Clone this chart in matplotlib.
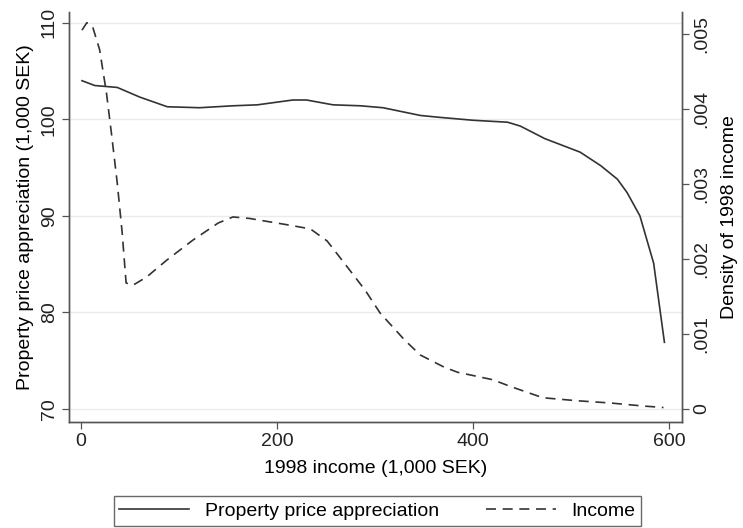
import matplotlib
matplotlib.use("Agg")
import matplotlib.pyplot as plt
import numpy as np

# Property price appreciation (left axis, 1,000 SEK) vs 1998 income
income_ppa = [1, 14, 37, 60, 88, 121, 155, 180, 216, 230, 257, 285, 308, 346, 366,
              400, 435, 448, 473, 509, 530, 547, 557, 570, 584, 595]
ppa = [104.0, 103.5, 103.3, 102.3, 101.3, 101.2, 101.4, 101.5, 102.0, 102.0, 101.5,
       101.4, 101.2, 100.4, 100.2, 99.9, 99.7, 99.3, 98.0, 96.6, 95.2, 93.8, 92.4,
       90.0, 85.1, 76.9]

# Density of 1998 income (right axis)
income_dens = [1, 6, 12, 19, 26, 31, 37, 42, 46, 53, 67, 88, 114, 140, 155, 172, 190,
               213, 234, 251, 270, 290, 305, 330, 346, 370, 384, 420, 438, 471, 506,
               540, 573, 594]
density = [0.00505, 0.00515, 0.00509, 0.00479, 0.00421, 0.00368, 0.00301, 0.00235,
           0.00168, 0.00165, 0.00176, 0.00199, 0.00225, 0.00248, 0.00256, 0.00254,
           0.00250, 0.00245, 0.00240, 0.00224, 0.00192, 0.00158, 0.00128, 0.00092,
           0.00072, 0.00056, 0.00049, 0.00039, 0.00030, 0.00015, 0.00011, 0.00008,
           0.00004, 0.00002]

left_ticks = [70, 80, 90, 100, 110]
right_ticks = [0, 0.001, 0.002, 0.003, 0.004, 0.005]
right_labels = ["0", ".001", ".002", ".003", ".004", ".005"]
x_ticks = [0, 200, 400, 600]

plt.rcParams.update({
    "font.family": ["Liberation Sans", "DejaVu Sans"],
    "font.size": 14,
    "axes.edgecolor": "#555555",
    "xtick.color": "#555555",
    "ytick.color": "#555555",
    "xtick.labelcolor": "#222222",
    "ytick.labelcolor": "#222222",
})

fig = plt.figure(figsize=(7.43, 5.28), dpi=100)
ax = fig.add_axes([0.0929, 0.2008, 0.8251, 0.7762])
ax2 = ax.twinx()

line_c = "#333333"
l1, = ax.plot(income_ppa, ppa, color=line_c, lw=1.2, label="Property price appreciation")
l2, = ax2.plot(income_dens, density, color=line_c, lw=1.2, dashes=(6, 4), label="Income")

ax.set_xlim(-12.2, 613)
ax.set_ylim(68.65, 111.1)
ax2.set_ylim(-0.000173, 0.00529)

ax.set_xticks(x_ticks)
ax.set_yticks(left_ticks)
ax.set_yticklabels([str(t) for t in left_ticks], rotation=90, va="center")
ax2.set_yticks(right_ticks)
ax2.set_yticklabels(right_labels, rotation=90, va="center")

ax.grid(axis="y", color="#ebebeb", lw=1.0)
ax.set_axisbelow(True)

for a in (ax, ax2):
    a.spines["top"].set_visible(False)
    for s in ("left", "right", "bottom"):
        a.spines[s].set_linewidth(1.0)
    a.tick_params(direction="out", length=5, width=0.9, pad=3)

ax.set_xlabel("1998 income (1,000 SEK)", labelpad=7)
ax.set_ylabel("Property price appreciation (1,000 SEK)", labelpad=5)
ax2.set_ylabel("Density of 1998 income", labelpad=8)

leg = fig.legend(handles=[l1, l2], loc="lower center", bbox_to_anchor=(0.508, -0.014),
                 ncol=2, frameon=True, fancybox=False, edgecolor="#444444",
                 handlelength=3.6, columnspacing=2.4, borderpad=0.3, fontsize=14)
leg.get_frame().set_linewidth(1.0)

fig.savefig("out.png", dpi=100)
